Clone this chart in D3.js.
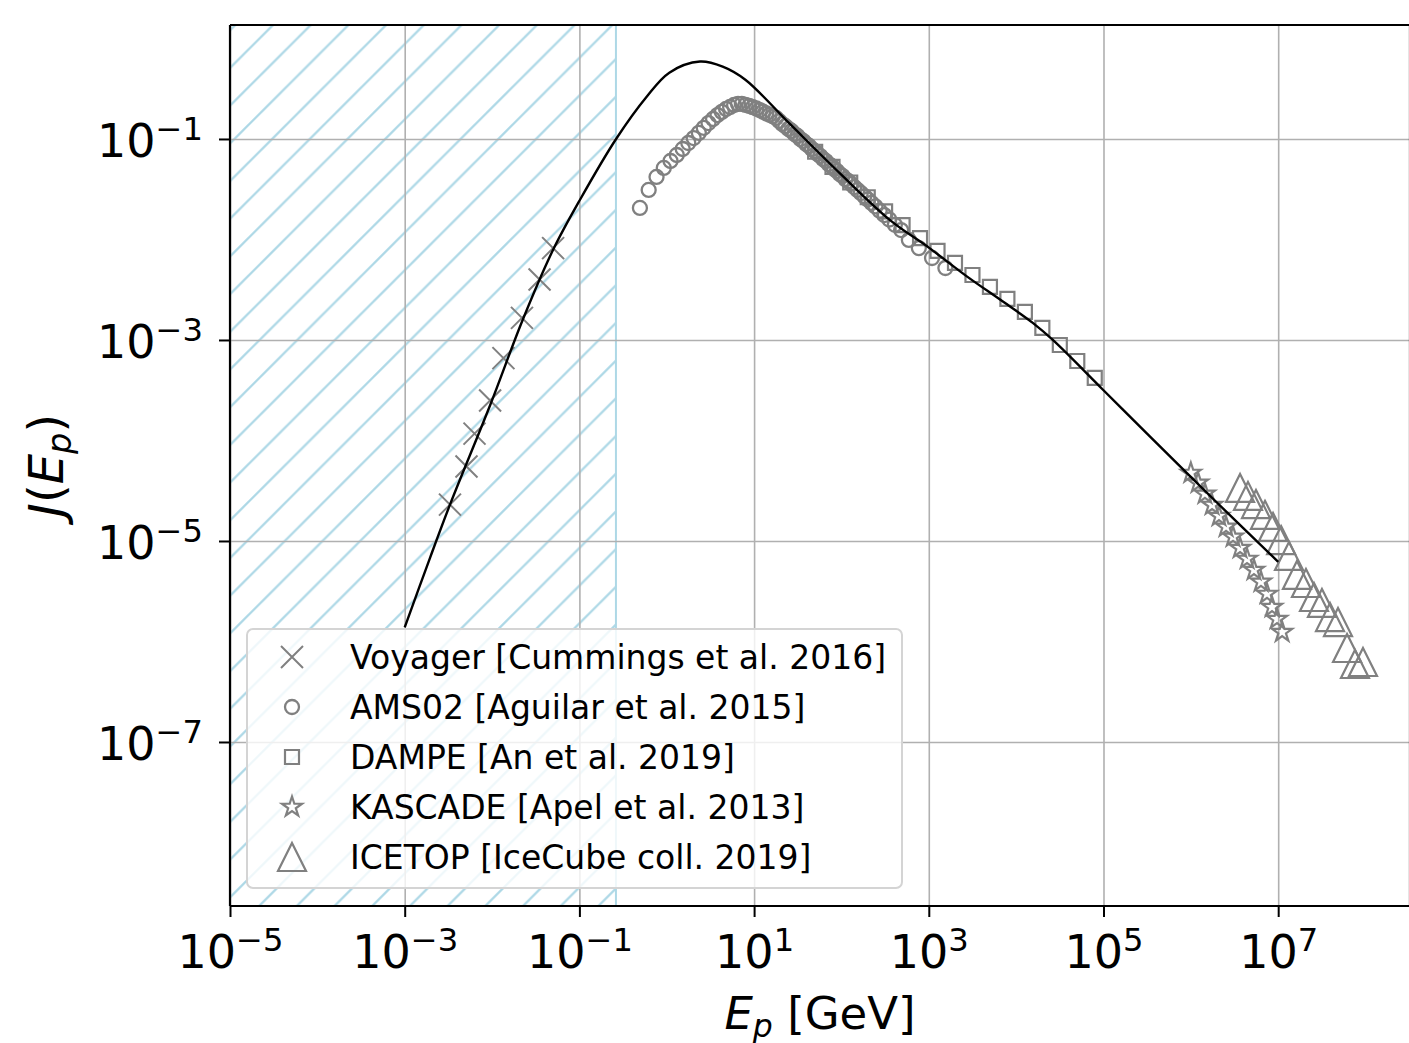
<!DOCTYPE html>
<html><head><meta charset="utf-8">
<script src="https://cdn.jsdelivr.net/npm/d3@7"></script>
<style>
html,body{margin:0;padding:0;background:#fff;}
text{font-family:"DejaVu Sans",sans-serif;}
</style></head>
<body><svg id="c" width="1409" height="1043"></svg>
<script>
// ---------------- data ----------------
const xTicks = [1e-5, 1e-3, 1e-1, 1e1, 1e3, 1e5, 1e7];
const xTickExp = ["\u22125", "\u22123", "\u22121", "1", "3", "5", "7"];
const yTicks = [1e-1, 1e-3, 1e-5, 1e-7];
const yTickExp = ["\u22121", "\u22123", "\u22125", "\u22127"];

const modelE = [1.0e-3, 1.95e-3, 3.3e-3, 9.5e-3, 0.0224, 0.050, 0.102, 0.263, 0.589, 1.07, 2.4, 4.37, 7.94, 25.7, 95.5, 363, 1000, 2750, 6600, 15500, 26300, 1e5, 3.39e5, 2.0e6, 1e7];
const modelJ = [1.38e-6, 6.8e-6, 2.3e-5, 2.24e-4, 1.58e-3, 7.9e-3, 0.025, 0.1, 0.263, 0.457, 0.589, 0.525, 0.389, 0.141, 0.0457, 0.0155, 8.3e-3, 4.27e-3, 2.51e-3, 1.48e-3, 1.0e-3, 3.16e-4, 1.1e-4, 2.4e-5, 6.2e-6];

const voyagerE = [0.050, 0.035, 0.022, 0.0135, 0.0095, 0.0063, 0.0051, 0.0033];
const voyagerJ = [8.2e-3, 4.0e-3, 1.66e-3, 6.6e-4, 2.5e-4, 1.17e-4, 5.5e-5, 2.3e-5];

const amsE = [0.493, 0.621, 0.764, 0.925, 1.105, 1.303, 1.523, 1.765, 2.034, 2.330, 2.652, 3.005, 3.390, 3.811, 4.272, 4.775, 5.318, 5.907, 6.546, 7.236, 7.982, 8.787, 9.65, 10.60, 11.60, 12.64, 13.79, 15.04, 16.39, 17.84, 19.38, 21.03, 22.83, 24.78, 26.83, 29.03, 31.38, 33.87, 36.57, 39.47, 42.57, 45.87, 49.42, 53.22, 57.27, 61.62, 66.32, 71.37, 76.77, 82.57, 88.82, 95.57, 103.1, 111.1, 119.6, 129.1, 140.1, 152.6, 166.6, 182.6, 200.6, 221.1, 245.1, 274.1, 309.6, 353.6, 409.1, 482.1, 591.6, 769.1, 1089, 1549];
const amsJ = [0.0206, 0.0311, 0.0419, 0.0515, 0.0604, 0.0693, 0.0795, 0.0912, 0.102, 0.115, 0.129, 0.144, 0.158, 0.173, 0.186, 0.199, 0.208, 0.218, 0.223, 0.223, 0.218, 0.213, 0.207, 0.201, 0.194, 0.187, 0.180, 0.174, 0.168, 0.162, 0.151, 0.141, 0.134, 0.126, 0.120, 0.112, 0.107, 0.0998, 0.0953, 0.0892, 0.0851, 0.0795, 0.0758, 0.0708, 0.0676, 0.0632, 0.0603, 0.0563, 0.0539, 0.0503, 0.048, 0.0448, 0.0427, 0.0398, 0.0381, 0.0357, 0.0332, 0.0311, 0.029, 0.027, 0.025, 0.0231, 0.0213, 0.0193, 0.0175, 0.0158, 0.014, 0.0124, 0.00989, 0.00822, 0.00654, 0.00520];

const dampeE = [50, 79, 126, 200, 316, 501, 794, 1259, 1995, 3162, 5012, 7943, 12589, 19953, 31623, 50119, 79433];
const dampeJ = [0.0746, 0.0527, 0.0369, 0.0263, 0.0190, 0.0139, 0.0103, 0.00769, 0.00584, 0.00443, 0.00337, 0.00256, 0.00190, 0.00132, 0.000891, 0.000618, 0.000419];

const kascadeE = [1.0e6, 1.21e6, 1.45e6, 1.75e6, 2.1e6, 2.53e6, 3.04e6, 3.66e6, 4.4e6, 5.28e6, 6.35e6, 7.45e6, 8.5e6, 9.7e6, 1.11e7];
const kascadeJ = [4.75e-5, 3.78e-5, 2.94e-5, 2.28e-5, 1.77e-5, 1.38e-5, 1.10e-5, 8.51e-6, 6.62e-6, 5.14e-6, 3.91e-6, 2.97e-6, 2.20e-6, 1.67e-6, 1.24e-6];

const icetopE = [3.66e6, 4.51e6, 5.57e6, 7.06e6, 8.73e6, 1.08e7, 1.33e7, 1.64e7, 2.08e7, 2.57e7, 3.17e7, 3.92e7, 4.84e7, 6.14e7, 7.57e7, 9.35e7];
const icetopJ = [3.37e-5, 2.81e-5, 2.33e-5, 1.82e-5, 1.38e-5, 1.02e-5, 7.10e-6, 4.59e-6, 3.82e-6, 2.77e-6, 2.42e-6, 1.75e-6, 1.56e-6, 8.61e-7, 5.97e-7, 6.25e-7];

const legendLabels = ["Voyager [Cummings et al. 2016]", "AMS02 [Aguilar et al. 2015]", "DAMPE [An et al. 2019]", "KASCADE [Apel et al. 2013]", "ICETOP [IceCube coll. 2019]"];
const hatchSpan = [1e-5, 0.262];

// ---------------- layout ----------------
const L = 230, R = 1410, T = 25, B = 906;
const svg = d3.select("#c");
const x = d3.scaleLog().domain([1e-5, Math.pow(10, 8.509)]).range([L, R]);
const y = d3.scaleLog().domain([Math.pow(10, -8.632), Math.pow(10, 0.134)]).range([B, T]);

const defs = svg.append("defs");
defs.append("clipPath").attr("id", "plotclip").append("rect")
  .attr("x", L).attr("y", T).attr("width", R - L).attr("height", B - T);
const P = 37.7, c0 = 34.1;
const pat = defs.append("pattern").attr("id", "hatch").attr("patternUnits", "userSpaceOnUse")
  .attr("width", P).attr("height", P);
[c0 - P, c0, c0 + P].forEach(c => {
  pat.append("line").attr("x1", c - P - 5).attr("y1", P + 5).attr("x2", c + 5).attr("y2", -5)
    .attr("stroke", "#add8e6").attr("stroke-width", 2.2);
});

const plot = svg.append("g").attr("clip-path", "url(#plotclip)");

// hatch span
plot.append("rect").attr("x", x(hatchSpan[0])).attr("y", T)
  .attr("width", x(hatchSpan[1]) - x(hatchSpan[0])).attr("height", B - T)
  .attr("fill", "url(#hatch)").attr("stroke", "#add8e6").attr("stroke-width", 2);

// grid
plot.append("g").attr("transform", `translate(0,${B})`)
  .call(d3.axisBottom(x).tickValues(xTicks).tickSize(-(B - T)).tickFormat(""))
  .call(g => g.select(".domain").remove())
  .call(g => g.selectAll("line").attr("stroke", "#b0b0b0").attr("stroke-width", 1.6));
plot.append("g").attr("transform", `translate(${L},0)`)
  .call(d3.axisLeft(y).tickValues(yTicks).tickSize(-(R - L)).tickFormat(""))
  .call(g => g.select(".domain").remove())
  .call(g => g.selectAll("line").attr("stroke", "#b0b0b0").attr("stroke-width", 1.6));

// marker paths
const markers = {
  cross: s => `M${-s},${-s}L${s},${s}M${-s},${s}L${s},${-s}`,
  circle: r => `M${r},0A${r},${r} 0 1,1 ${-r},0A${r},${r} 0 1,1 ${r},0Z`,
  square: s => `M${-s},${-s}H${s}V${s}H${-s}Z`,
  star: Rr => {
    const ri = Rr * 0.381966; let p = "";
    for (let i = 0; i < 10; i++) {
      const a = -Math.PI / 2 + i * Math.PI / 5, rr = i % 2 ? ri : Rr;
      p += (i ? "L" : "M") + (rr * Math.cos(a)).toFixed(2) + "," + (rr * Math.sin(a)).toFixed(2);
    }
    return p + "Z";
  },
  triangle: s => `M0,${-s}L${s},${s}L${-s},${s}Z`
};
const series = [
  {E: voyagerE, J: voyagerJ, m: markers.cross(11), w: 2},
  {E: amsE, J: amsJ, m: markers.circle(7), w: 2.3},
  {E: dampeE, J: dampeJ, m: markers.square(7), w: 2.2},
  {E: kascadeE, J: kascadeJ, m: markers.star(10.5), w: 2.2},
  {E: icetopE, J: icetopJ, m: markers.triangle(14), w: 2.2}
];
series.forEach(s => {
  plot.append("g").selectAll("path").data(s.E.map((e, i) => [e, s.J[i]])).join("path")
    .attr("transform", d => `translate(${x(d[0])},${y(d[1])})`)
    .attr("d", s.m).attr("fill", "none").attr("stroke", "#808080").attr("stroke-width", s.w);
});

// model curve
plot.append("path").datum(modelE.map((e, i) => [e, modelJ[i]]))
  .attr("d", d3.line().x(d => x(d[0])).y(d => y(d[1])).curve(d3.curveCatmullRom.alpha(0.5)))
  .attr("fill", "none").attr("stroke", "#000").attr("stroke-width", 2.4);

// spines
svg.append("line").attr("x1", L).attr("x2", R).attr("y1", T).attr("y2", T).attr("stroke", "#000").attr("stroke-width", 2.2);
svg.append("line").attr("x1", L).attr("x2", L).attr("y1", T).attr("y2", B).attr("stroke", "#000").attr("stroke-width", 2.2);
svg.append("line").attr("x1", L).attr("x2", R).attr("y1", B).attr("y2", B).attr("stroke", "#000").attr("stroke-width", 2.2);
svg.append("line").attr("x1", R).attr("x2", R).attr("y1", T).attr("y2", B).attr("stroke", "#000").attr("stroke-width", 2.2);

// axes with ticks
const fs = 46;
const xa = svg.append("g").attr("transform", `translate(0,${B})`)
  .call(d3.axisBottom(x).tickValues(xTicks).tickSize(11).tickSizeOuter(0).tickPadding(0).tickFormat(""));
xa.select(".domain").remove();
xa.selectAll(".tick line").attr("stroke", "#000").attr("stroke-width", 2);
xa.selectAll(".tick text").each(function (d, i) {
  const t = d3.select(this).attr("y", 62).attr("dy", null).attr("fill", "#000")
    .attr("font-size", fs).attr("text-anchor", "middle");
  t.append("tspan").text("10");
  t.append("tspan").attr("font-size", fs * 0.7).attr("dy", -17).text(xTickExp[i]);
});
const ya = svg.append("g").attr("transform", `translate(${L},0)`)
  .call(d3.axisLeft(y).tickValues(yTicks).tickSize(11).tickSizeOuter(0).tickPadding(0).tickFormat(""));
ya.select(".domain").remove();
ya.selectAll(".tick line").attr("stroke", "#000").attr("stroke-width", 2);
ya.selectAll(".tick text").each(function (d, i) {
  const t = d3.select(this).attr("x", -27).attr("dy", null).attr("y", 18).attr("fill", "#000")
    .attr("font-size", fs).attr("text-anchor", "end");
  t.append("tspan").text("10");
  t.append("tspan").attr("font-size", fs * 0.7).attr("dy", -17).text(yTickExp[i]);
});

// axis labels
const lf = 45;
const xl = svg.append("text").attr("x", (L + R) / 2).attr("y", 1029).attr("text-anchor", "middle")
  .attr("font-size", lf).attr("fill", "#000");
xl.append("tspan").attr("font-style", "italic").text("E");
xl.append("tspan").attr("font-style", "italic").attr("font-size", lf * 0.7).attr("dy", 8).text("p");
xl.append("tspan").attr("dy", -8).text(" [GeV]");

const yl = svg.append("text").attr("transform", `translate(63,${(T + B) / 2}) rotate(-90)`)
  .attr("text-anchor", "middle").attr("font-size", 48).attr("fill", "#000");
yl.append("tspan").attr("font-style", "italic").text("J");
yl.append("tspan").text("(");
yl.append("tspan").attr("font-style", "italic").text("E");
yl.append("tspan").attr("font-style", "italic").attr("font-size", 48 * 0.7).attr("dy", 8).text("p");
yl.append("tspan").attr("dy", -8).text(")");

// legend
const lg = svg.append("g");
lg.append("rect").attr("x", 247).attr("y", 629).attr("width", 655).attr("height", 259)
  .attr("rx", 6).attr("fill", "#fff").attr("fill-opacity", 0.8)
  .attr("stroke", "#d4d4d4").attr("stroke-width", 2);
legendLabels.forEach((lab, i) => {
  const cy = 657 + i * 50;
  lg.append("path").attr("transform", `translate(292,${cy})`).attr("d", series[i].m)
    .attr("fill", "none").attr("stroke", "#808080").attr("stroke-width", series[i].w);
  lg.append("text").attr("x", 350).attr("y", cy).attr("dy", "0.36em")
    .attr("font-size", 33).attr("fill", "#000").text(lab);
});
</script></body></html>
